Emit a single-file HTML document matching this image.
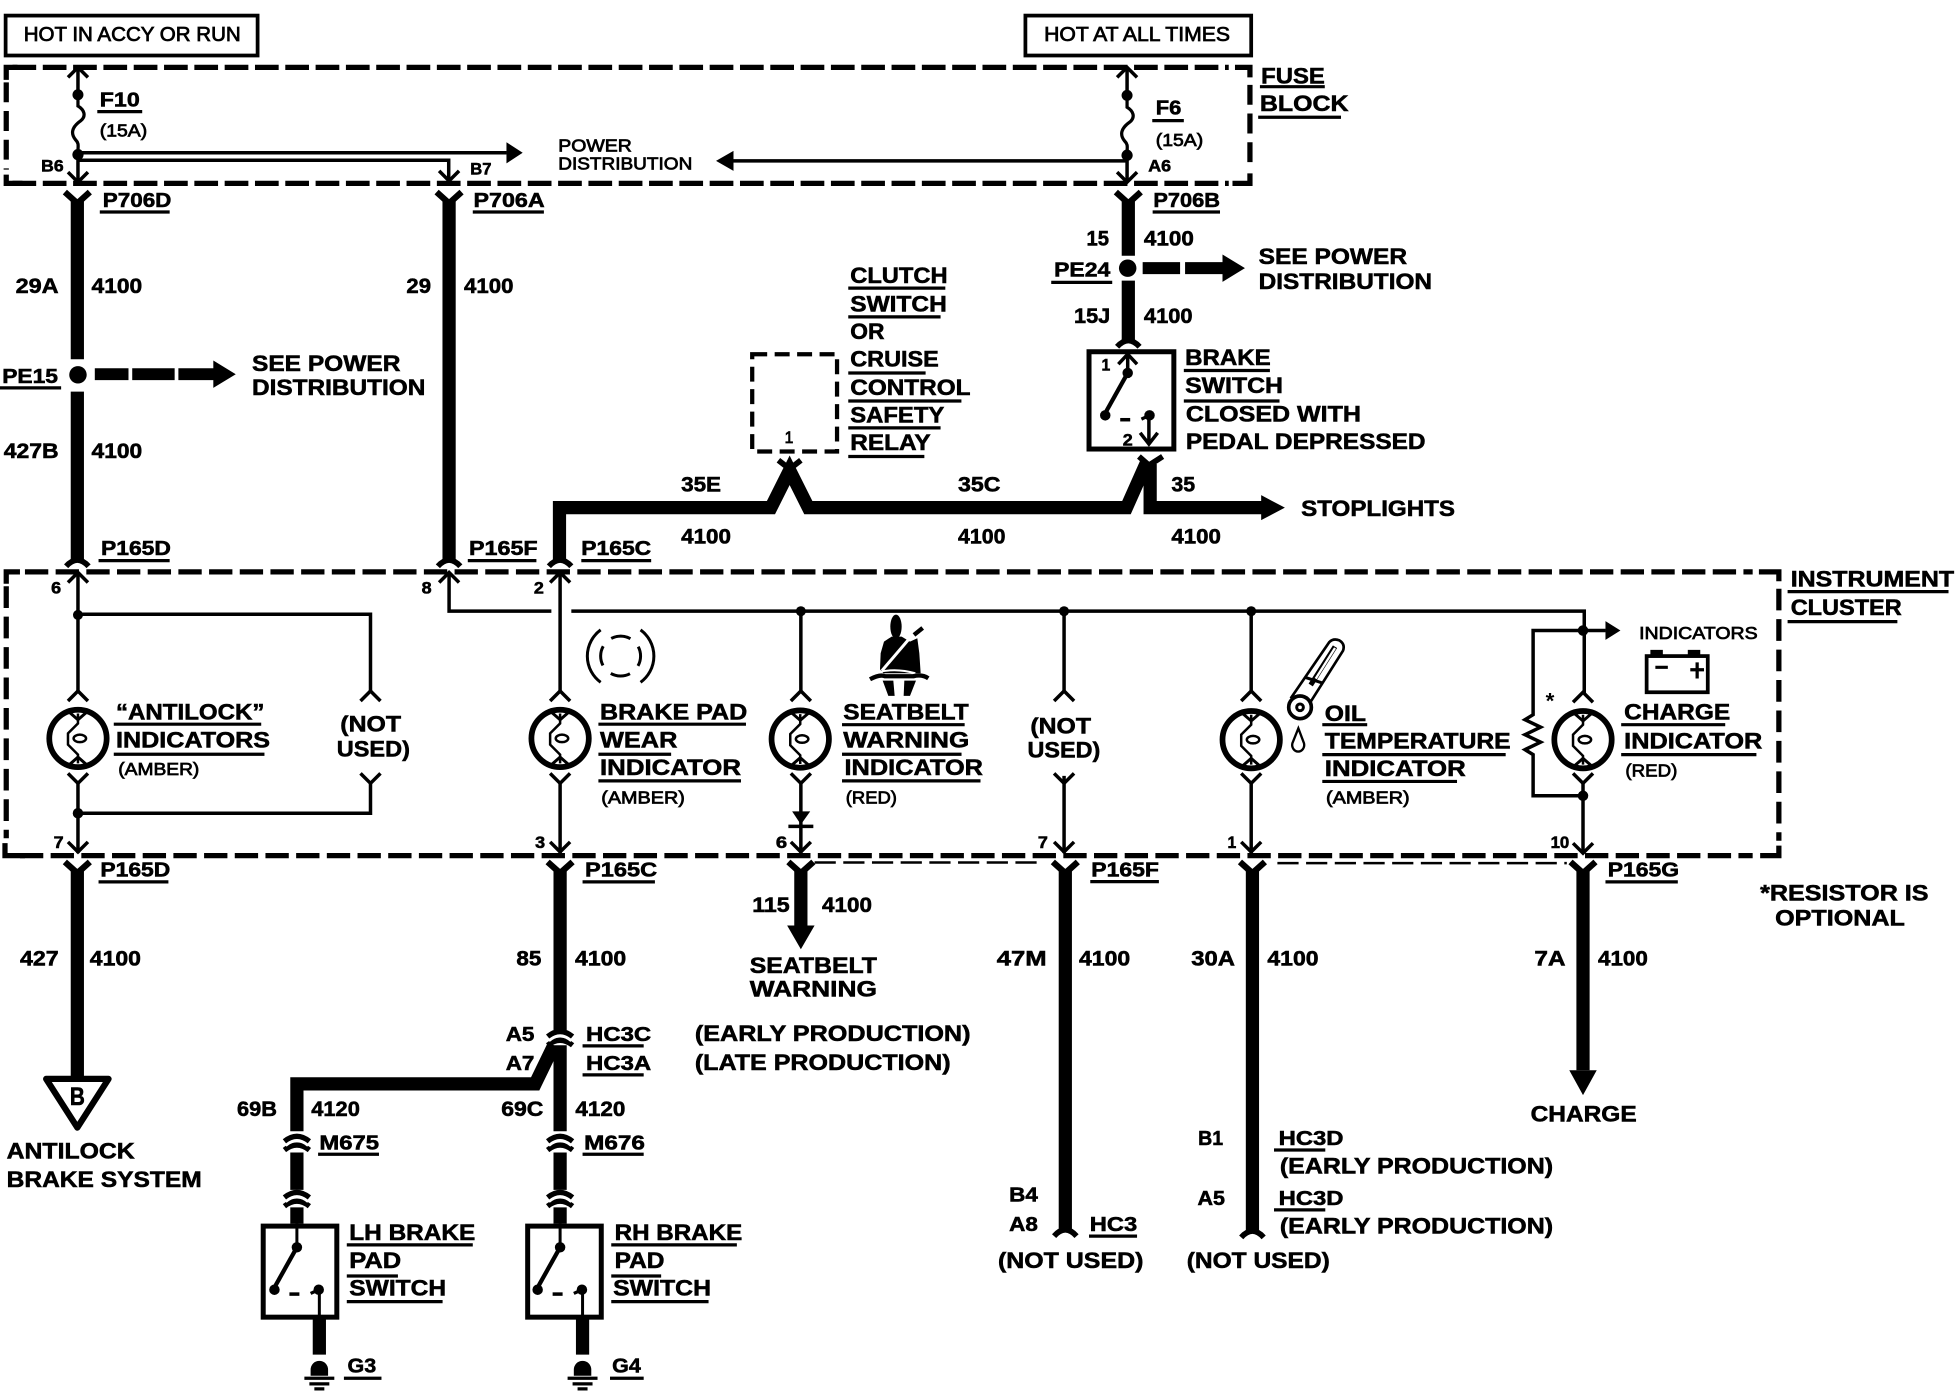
<!DOCTYPE html>
<html><head><meta charset="utf-8"><title>Brake switch wiring diagram</title>
<style>
html,body{margin:0;padding:0;background:#fff}
svg{display:block}
text{font-family:"Liberation Sans",sans-serif;fill:#000}
.b text{font-weight:bold;stroke:#000;stroke-width:.45}
.r text{font-weight:normal;stroke:#000;stroke-width:.6}
.l18 text{font-size:18px}.l17 text{font-size:17px}.l16 text{font-size:16px}.l14 text{font-size:14px}.l13 text{font-size:13px}
</style></head><body>
<svg xmlns="http://www.w3.org/2000/svg" width="1956" height="1392" viewBox="0 0 1568 1116" preserveAspectRatio="none">
<defs>
<path id="cu" d="M-8,8 L0,0 L8,8" fill="none" stroke="#000" stroke-width="2.8"/>
<path id="cd" d="M-8,-8 L0,0 L8,-8" fill="none" stroke="#000" stroke-width="2.8"/>
<path id="yt" d="M-10,0 L0,9 L10,0" fill="none" stroke="#000" stroke-width="5"/>
<path id="at" d="M-9,6 Q0,-4 9,6" fill="none" stroke="#000" stroke-width="4.5"/>
<g id="dbl"><path d="M-10,5 Q0,-3 10,5" fill="none" stroke="#000" stroke-width="4.2"/><path d="M-10,12 Q0,4 10,12" fill="none" stroke="#000" stroke-width="4.2"/><path d="M-9,8.5 Q0,.5 9,8.5" fill="none" stroke="#fff" stroke-width="2.2"/></g>
<g id="bulb" fill="none" stroke="#000">
<circle r="23" stroke-width="4.6"/>
<path d="M0,-20 V-12 L-8,-4 V5 L0,13 V20" stroke-width="2"/>
<ellipse cx="1.5" cy="0" rx="5" ry="3" stroke-width="2"/>
<path d="M-8,-22 L0,-15 L8,-22 M-8,22 L0,15 L8,22" stroke-width="2.4"/>
</g>
<path id="fuse" d="M0,0 v6 c5,3 7,8 2,12 c-7,5 -8,10 -4,15 c3,3 2,5 2,9" fill="none" stroke="#000" stroke-width="2.6"/>
<g id="gnd"><path d="M-7,12 V7 A7,7 0 0 1 7,7 V12 Z" fill="#000"/><path d="M-12,14 H12 M-8,18.5 H8 M-4,22.5 H4" stroke="#000" stroke-width="2.6" fill="none"/></g>
<g id="sw" fill="none" stroke="#000">
<circle cx="0" cy="19" r="4.2" fill="#000" stroke="none"/>
<path d="M0,19 L-19,53" stroke-width="3.4"/>
<circle cx="-18" cy="53" r="4.2" fill="#000" stroke="none"/>
<path d="M-6,56.5 H2" stroke-width="2.8"/>
<circle cx="17.5" cy="53" r="4.2" fill="#000" stroke="none"/>
<path d="M17.5,53 L11,56" stroke-width="2.6"/>
</g>
</defs>

<!-- top boxes -->
<rect x="4.5" y="12.5" width="202" height="32" fill="none" stroke="#000" stroke-width="3"/>
<rect x="822" y="12.5" width="181" height="32" fill="none" stroke="#000" stroke-width="3"/>

<!-- dashed blocks -->
<g fill="none" stroke="#000" stroke-width="4.2">
<path d="M10,54 H985" stroke-dasharray="19 5.3"/>
<path d="M10,147 H985" stroke-dasharray="19 5.3"/>
<path d="M5,66 V136" stroke-dasharray="16 7"/>
<path d="M1002,68 V134" stroke-dasharray="16 7"/>
<path d="M5,64 V54 H14 M18,147 H5 V140 M990,54 H1002 V62 M988,147 H1002 V139"/>
<path d="M20,458.5 H1405" stroke-dasharray="18.7 5.9"/>
<path d="M16,686 H1405" stroke-dasharray="18.7 5.9"/>
<path d="M5,470 V672" stroke-dasharray="17.4 7"/>
<path d="M1426,472 V674" stroke-dasharray="17.4 7"/>
<path d="M5,468 V458.5 H16 M20,686 H4 V676 M1410,458.5 H1426 V466 M1411,686 H1426 V678"/>
<path d="M603,284 H671 V362 H603 Z" stroke-dasharray="12 6" stroke-width="3.4"/>
<path d="M653,691.5 H834 M1024,692 H1256" stroke-dasharray="17 6" stroke-width="2"/>
</g>

<!-- thick wires -->
<g fill="none" stroke="#000" stroke-width="10.6">
<path d="M62,161 V288 M62,314 V449"/>
<path d="M360,161 V449"/>
<path d="M904.5,161 V205 M904.5,225 V273"/>
<path d="M448.5,449 V407 H618 L633,377 L648,407 H903 L919,371"/>
<path d="M922,372 V407 H1012"/>
<path d="M62,697 V864"/>
<path d="M449,697 V827 M449,838 V907 M449,924 V954 M449,968 V981"/>
<path d="M444,838 L429,869 H238 V907 M238,924 V954 M238,968 V981"/>
<path d="M642,697 V742"/>
<path d="M854,697 V986"/>
<path d="M1004,697 V987"/>
<path d="M1269,697 V858"/>
<path d="M256,1057 V1086 M467,1057 V1086"/>
<path d="M76,300 H103 M106,300 H140 M143,300 H172" stroke-width="9.6"/>
<path d="M916,215 H946 M950,215 H982" stroke-width="9.6"/>
</g>
<!-- thick arrowheads -->
<path d="M171,289 L189,300 L171,311 Z M980,204 L998,215 L980,226 Z M1011,397 L1030,407 L1011,417 Z M631,742 H653 L642,761 Z M1258,858 H1280 L1269,878 Z"/>
<circle cx="62.5" cy="300.5" r="7"/><circle cx="904" cy="215" r="7"/>

<!-- connectors on thick wires -->
<use href="#yt" x="62" y="154"/><use href="#yt" x="360" y="154"/><use href="#yt" x="904.5" y="154"/>
<use href="#yt" x="62" y="691"/><use href="#yt" x="449" y="691"/><use href="#yt" x="642" y="691"/><use href="#yt" x="854" y="691"/><use href="#yt" x="1004" y="691"/><use href="#yt" x="1269" y="691"/>
<use href="#at" x="62" y="448"/><use href="#at" x="360" y="448"/><use href="#at" x="449" y="448"/>
<use href="#at" x="904.5" y="272"/>
<path d="M624,369 L633,376 L642,369 M913,366 L921,373 L932,366" fill="none" stroke="#000" stroke-width="4.6"/>
<use href="#at" x="854" y="985"/><use href="#at" x="1004" y="986"/>
<use href="#dbl" x="449" y="826"/><use href="#dbl" x="449" y="910"/><use href="#dbl" x="449" y="955"/><use href="#dbl" x="238" y="910"/><use href="#dbl" x="238" y="955"/>

<!-- fuse block internals -->
<g fill="none" stroke="#000" stroke-width="2.8">
<path d="M62.5,54 V80 M62.5,120 V145"/>
<path d="M903.5,54 V80 M903.5,120 V145"/>
<path d="M62,122.5 H406"/>
<path d="M62,128.5 H359.7 V144"/>
<path d="M588,129 H904"/>
</g>
<use href="#fuse" x="62.5" y="79"/><use href="#fuse" x="903.5" y="80"/>
<use href="#cu" x="62.5" y="54"/><use href="#cu" x="903.5" y="54"/>
<use href="#cd" x="62.5" y="146"/><use href="#cd" x="360" y="145"/><use href="#cd" x="903.5" y="146"/>
<circle cx="62.5" cy="76" r="4.4"/><circle cx="62.5" cy="124" r="4.5"/><circle cx="903.5" cy="76.5" r="4.4"/><circle cx="903.5" cy="124.5" r="4.5"/>
<path d="M406,114 L419,122.5 L406,131 Z M588,121 L574,129 L588,137 Z"/>

<!-- cluster internals -->
<g fill="none" stroke="#000" stroke-width="2.8">
<path d="M62.5,459 V556 M62.5,627 V684"/>
<path d="M62.5,492.5 H297 V556"/>
<path d="M297,627 V652 H62.5"/>
<path d="M360,459 V490 H442 M458,490 H1270 V556"/>
<path d="M449,459 V556 M449,627 V684"/>
<path d="M642,490 V556 M642,627 V684"/>
<path d="M853,490 V556 M853,622 V684"/>
<path d="M1003,490 V556 M1003,627 V684"/>
<path d="M1269,627 V684"/>
<path d="M1287,505.5 H1229 V573 L1222.5,577 L1235,583 L1222.5,589 L1235,595 L1222.5,601 L1229,605 V638 H1269"/>
</g>
<g>
<use href="#cu" x="62.5" y="459"/><use href="#cu" x="360" y="459"/><use href="#cu" x="449" y="459"/>
<use href="#cu" x="62.5" y="554"/><use href="#cu" x="297" y="554"/><use href="#cu" x="449" y="554"/><use href="#cu" x="642" y="554"/><use href="#cu" x="853" y="554"/><use href="#cu" x="1003" y="554"/><use href="#cu" x="1269" y="555"/>
<use href="#cd" x="62.5" y="628"/><use href="#cd" x="297" y="628"/><use href="#cd" x="449" y="628"/><use href="#cd" x="642" y="628"/><use href="#cd" x="853" y="628"/><use href="#cd" x="1003" y="628"/><use href="#cd" x="1269" y="628"/>
<use href="#cd" x="62.5" y="683"/><use href="#cd" x="449" y="683"/><use href="#cd" x="642" y="683"/><use href="#cd" x="853" y="683"/><use href="#cd" x="1003" y="683"/><use href="#cd" x="1269" y="684"/>
</g>
<circle cx="62.5" cy="493" r="4"/><circle cx="62.5" cy="652" r="4.2"/><circle cx="642" cy="490" r="4"/><circle cx="853" cy="490" r="4"/><circle cx="1003" cy="490" r="4"/><circle cx="1269" cy="505.5" r="4.2"/><circle cx="1269" cy="638" r="4.2"/>
<path d="M1287,498 L1299,505.5 L1287,513 Z"/>
<path d="M635,650.5 H649.5 L642,661 Z"/><path d="M632,662.5 H652" stroke="#000" stroke-width="2.8"/>
<use href="#bulb" x="62.5" y="592"/><use href="#bulb" x="449" y="592"/><use href="#bulb" x="641.5" y="592.5"/><use href="#bulb" x="1003" y="593"/><use href="#bulb" x="1269" y="593"/>

<!-- brake pad icon -->
<g fill="none" stroke="#000" stroke-width="2.4">
<path d="M481.5,505 A26,26 0 0 0 481.5,547 M513.5,505 A26,26 0 0 1 513.5,547"/>
<circle cx="497.5" cy="526" r="16" stroke-dasharray="16 9.1" transform="rotate(-118 497.5 526)"/>
</g>
<!-- seatbelt icon -->
<g transform="translate(689.4,489) scale(.2672)">
<ellipse cx="108" cy="50" rx="17" ry="36"/>
<path d="M72,95 L95,80 H125 L150,95 L172,85 L178,130 L182,190 H70 L60,178 L62,130 Z"/>
<path d="M66,182 L160,72" stroke="#fff" stroke-width="9" fill="none"/>
<path d="M162,75 L188,54" stroke="#000" stroke-width="13" fill="none"/>
<path d="M58,186 Q110,174 166,190" stroke="#fff" stroke-width="6" fill="none"/>
<path d="M30,208 Q60,192 75,199 H160 Q185,192 205,205" stroke="#000" stroke-width="13" fill="none"/>
<path d="M68,212 L85,258 H104 L100,212 Z M168,212 L150,258 H131 L133,212 Z"/>
</g>
<!-- thermometer -->
<g transform="translate(1018.1,505.1) scale(.2672)" fill="none" stroke="#000">
<path d="M62,205 L178,36 Q190,24 208,31 Q226,42 219,62 L122,215" stroke-width="8" fill="#fff"/>
<circle cx="90" cy="232" r="34" stroke-width="11" fill="#fff"/>
<circle cx="90" cy="232" r="10" stroke-width="9"/>
<path d="M122,165 L195,50" stroke-width="15"/>
<path d="M137,146 L195,54" stroke="#fff" stroke-width="7"/>
<path d="M105,142 L160,160" stroke-width="9"/>
<path d="M85,295 L67,340 A18,20 0 1 0 102,340 Z" stroke-width="7"/>
</g>
<!-- battery -->
<g fill="none" stroke="#000">
<rect x="1320" y="526" width="49" height="29" stroke-width="3"/>
<path d="M1327,535 H1337 M1355,537 H1366 M1360.5,531 V544" stroke-width="2.6"/>
</g>
<path d="M1323,521 H1333 V526 H1323 Z M1353,521 H1363 V526 H1353 Z"/>

<!-- brake switch -->
<rect x="873" y="282" width="68" height="78" fill="none" stroke="#000" stroke-width="4"/>
<path d="M904,284 V300" stroke="#000" stroke-width="2.8"/>
<path d="M896.5,292 L904,284 L911.5,292" fill="none" stroke="#000" stroke-width="2.8"/>
<use href="#sw" x="904" y="280"/>
<path d="M921,333 V355 M914,347 L921,356 L928,347" fill="none" stroke="#000" stroke-width="2.8"/>
<!-- LH/RH switches -->
<rect x="211" y="983" width="59" height="73" fill="none" stroke="#000" stroke-width="4"/>
<rect x="423" y="983" width="59" height="73" fill="none" stroke="#000" stroke-width="4"/>
<path d="M238,981 V1000 M449,981 V1000 M256,1034 V1057 M467,1034 V1057" stroke="#000" stroke-width="2.4" fill="none"/>
<use href="#sw" x="238" y="981"/><use href="#sw" x="449" y="981"/>
<use href="#gnd" x="256" y="1091"/><use href="#gnd" x="467" y="1091"/>

<!-- triangle -->
<path d="M37,865 H87 L62,904 Z" fill="#fff" stroke="#000" stroke-width="5" stroke-linejoin="round"/>

<!-- underlines -->
<path fill="none" stroke="#000" stroke-width="2.6" d="
M1010,69.5H1062M1008.6,94H1075
M78,89.5H114M923.7,96.7H949
M80,170H136M379,170H436M924,170H978M842.7,226.4H891.6M0,311H49
M680,231H757.8M680,254H754M680,299H742M680,321.5H770.7M680,343H754M680,366H741
M949,297H1018M949,321.5H1025.7
M79,449.5H136M375,449.5H430M466,449.5H522
M1433,474.3H1562M1433,498.4H1521
M91.2,580.6H209.4M91.2,604.7H212
M479.7,580.6H598M479.7,604.7H538M479.7,626H594
M675,581H773.3M675,604.7H770.8M675,626H786
M1060,581H1096M1060,605H1207M1060,626.5H1168
M1299.6,581H1383M1299.6,605H1408
M79,707H135M467,707H525M874,706.8H929M1287,707H1345
M467,838.5H516M467,861.8H516
M255,925.4H303.8M467,925.4H516
M278,998H379M278,1023H319M278,1043.5H354.8
M490,998H590.7M490,1023H530M490,1043.5H568
M275.7,1105H305.8M489,1105H516
M1021.3,922H1062.4M1021.3,970H1062.4
M873,991H911.5"/>

<!-- regular weight labels -->
<g class="r l16">
<text x="19" y="33" textLength="174" lengthAdjust="spacingAndGlyphs">HOT IN ACCY OR RUN</text>
<text x="837" y="33" textLength="149" lengthAdjust="spacingAndGlyphs">HOT AT ALL TIMES</text>
</g>
<g class="r l14">
<text x="447.5" y="121.6" textLength="59" lengthAdjust="spacingAndGlyphs">POWER</text>
<text x="447.5" y="136" textLength="107.5" lengthAdjust="spacingAndGlyphs">DISTRIBUTION</text>
<text x="1314" y="512.4" textLength="95" lengthAdjust="spacingAndGlyphs">INDICATORS</text>
<text x="94.8" y="621.3" textLength="65" lengthAdjust="spacingAndGlyphs">(AMBER)</text>
<text x="482" y="644" textLength="67" lengthAdjust="spacingAndGlyphs">(AMBER)</text>
<text x="678" y="644" textLength="41" lengthAdjust="spacingAndGlyphs">(RED)</text>
<text x="1063" y="644" textLength="67" lengthAdjust="spacingAndGlyphs">(AMBER)</text>
<text x="1303" y="622.6" textLength="41.6" lengthAdjust="spacingAndGlyphs">(RED)</text>
<text x="80" y="109.6" textLength="38" lengthAdjust="spacingAndGlyphs">(15A)</text>
<text x="926.5" y="117" textLength="38" lengthAdjust="spacingAndGlyphs">(15A)</text>
</g>
<g class="r l13">
<text x="629" y="355" textLength="7" lengthAdjust="spacingAndGlyphs">1</text>
</g>

<!-- bold small -->
<g class="b l13">
<text x="883" y="297" textLength="7" lengthAdjust="spacingAndGlyphs">1</text>
<text x="33" y="137.6" textLength="18" lengthAdjust="spacingAndGlyphs">B6</text>
<text x="377" y="140" textLength="17" lengthAdjust="spacingAndGlyphs">B7</text>
<text x="920.5" y="137.6" textLength="18.3" lengthAdjust="spacingAndGlyphs">A6</text>
<text x="41" y="476" textLength="8" lengthAdjust="spacingAndGlyphs">6</text>
<text x="338" y="476" textLength="8" lengthAdjust="spacingAndGlyphs">8</text>
<text x="428" y="476" textLength="8" lengthAdjust="spacingAndGlyphs">2</text>
<text x="43" y="680" textLength="8" lengthAdjust="spacingAndGlyphs">7</text>
<text x="429" y="680" textLength="8" lengthAdjust="spacingAndGlyphs">3</text>
<text x="622" y="680" textLength="9" lengthAdjust="spacingAndGlyphs">6</text>
<text x="832" y="680" textLength="8" lengthAdjust="spacingAndGlyphs">7</text>
<text x="984" y="680" textLength="7" lengthAdjust="spacingAndGlyphs">1</text>
<text x="1243" y="680" textLength="15" lengthAdjust="spacingAndGlyphs">10</text>
<text x="900" y="357" textLength="8" lengthAdjust="spacingAndGlyphs">2</text>
</g>
<text x="1239" y="568" font-size="18" font-weight="bold">*</text>

<!-- connector labels -->
<g class="b l16">
<text x="80" y="85.5" textLength="32" lengthAdjust="spacingAndGlyphs">F10</text>
<text x="926.5" y="92" textLength="20.5" lengthAdjust="spacingAndGlyphs">F6</text>
<text x="82.4" y="166" textLength="55" lengthAdjust="spacingAndGlyphs">P706D</text>
<text x="379.6" y="166" textLength="57" lengthAdjust="spacingAndGlyphs">P706A</text>
<text x="924.6" y="166" textLength="53.4" lengthAdjust="spacingAndGlyphs">P706B</text>
<text x="1.8" y="307" textLength="44.7" lengthAdjust="spacingAndGlyphs">PE15</text>
<text x="845" y="221.8" textLength="45" lengthAdjust="spacingAndGlyphs">PE24</text>
<text x="81" y="445" textLength="56" lengthAdjust="spacingAndGlyphs">P165D</text>
<text x="376" y="445" textLength="55" lengthAdjust="spacingAndGlyphs">P165F</text>
<text x="466" y="445" textLength="56" lengthAdjust="spacingAndGlyphs">P165C</text>
<text x="80.5" y="702.8" textLength="56" lengthAdjust="spacingAndGlyphs">P165D</text>
<text x="469" y="702.8" textLength="57.8" lengthAdjust="spacingAndGlyphs">P165C</text>
<text x="874.8" y="702.8" textLength="54.2" lengthAdjust="spacingAndGlyphs">P165F</text>
<text x="1288.8" y="702.8" textLength="57.2" lengthAdjust="spacingAndGlyphs">P165G</text>
<text x="469.8" y="834.5" textLength="52.2" lengthAdjust="spacingAndGlyphs">HC3C</text>
<text x="469.8" y="857.8" textLength="52.2" lengthAdjust="spacingAndGlyphs">HC3A</text>
<text x="405.4" y="834.5" textLength="23" lengthAdjust="spacingAndGlyphs">A5</text>
<text x="405.4" y="857.8" textLength="23" lengthAdjust="spacingAndGlyphs">A7</text>
<text x="256" y="921.5" textLength="47.8" lengthAdjust="spacingAndGlyphs">M675</text>
<text x="468.3" y="921.5" textLength="48.7" lengthAdjust="spacingAndGlyphs">M676</text>
<text x="278.6" y="1100.4" textLength="23" lengthAdjust="spacingAndGlyphs">G3</text>
<text x="490.7" y="1100.4" textLength="23" lengthAdjust="spacingAndGlyphs">G4</text>
<text x="809" y="963.3" textLength="23" lengthAdjust="spacingAndGlyphs">B4</text>
<text x="809" y="987" textLength="23" lengthAdjust="spacingAndGlyphs">A8</text>
<text x="873.6" y="987" textLength="38" lengthAdjust="spacingAndGlyphs">HC3</text>
<text x="960.5" y="918" textLength="20" lengthAdjust="spacingAndGlyphs">B1</text>
<text x="960" y="966" textLength="22" lengthAdjust="spacingAndGlyphs">A5</text>
<text x="1025" y="918" textLength="52" lengthAdjust="spacingAndGlyphs">HC3D</text>
<text x="1025" y="966" textLength="52" lengthAdjust="spacingAndGlyphs">HC3D</text>
</g>

<!-- circuit numbers -->
<g class="b l17">
<text x="12.5" y="235" textLength="34.5" lengthAdjust="spacingAndGlyphs">29A</text>
<text x="73.4" y="235" textLength="40.6" lengthAdjust="spacingAndGlyphs">4100</text>
<text x="325.8" y="235" textLength="19.7" lengthAdjust="spacingAndGlyphs">29</text>
<text x="372" y="235" textLength="39.6" lengthAdjust="spacingAndGlyphs">4100</text>
<text x="3" y="367" textLength="44" lengthAdjust="spacingAndGlyphs">427B</text>
<text x="73.4" y="367" textLength="40.6" lengthAdjust="spacingAndGlyphs">4100</text>
<text x="871" y="197" textLength="18" lengthAdjust="spacingAndGlyphs">15</text>
<text x="917" y="197" textLength="40" lengthAdjust="spacingAndGlyphs">4100</text>
<text x="861" y="259" textLength="29" lengthAdjust="spacingAndGlyphs">15J</text>
<text x="917" y="259" textLength="39" lengthAdjust="spacingAndGlyphs">4100</text>
<text x="546" y="394" textLength="32" lengthAdjust="spacingAndGlyphs">35E</text>
<text x="546" y="435.6" textLength="40" lengthAdjust="spacingAndGlyphs">4100</text>
<text x="768" y="394" textLength="34" lengthAdjust="spacingAndGlyphs">35C</text>
<text x="768" y="435.6" textLength="38" lengthAdjust="spacingAndGlyphs">4100</text>
<text x="939" y="394" textLength="19" lengthAdjust="spacingAndGlyphs">35</text>
<text x="939" y="435.6" textLength="39.7" lengthAdjust="spacingAndGlyphs">4100</text>
<text x="603" y="731" textLength="30" lengthAdjust="spacingAndGlyphs">115</text>
<text x="659" y="731" textLength="40" lengthAdjust="spacingAndGlyphs">4100</text>
<text x="16" y="774" textLength="31" lengthAdjust="spacingAndGlyphs">427</text>
<text x="72" y="774" textLength="41" lengthAdjust="spacingAndGlyphs">4100</text>
<text x="414" y="774" textLength="20" lengthAdjust="spacingAndGlyphs">85</text>
<text x="461" y="774" textLength="41" lengthAdjust="spacingAndGlyphs">4100</text>
<text x="799" y="774" textLength="40" lengthAdjust="spacingAndGlyphs">47M</text>
<text x="865" y="774" textLength="41" lengthAdjust="spacingAndGlyphs">4100</text>
<text x="955" y="774" textLength="35" lengthAdjust="spacingAndGlyphs">30A</text>
<text x="1016" y="774" textLength="41" lengthAdjust="spacingAndGlyphs">4100</text>
<text x="1230" y="774" textLength="25" lengthAdjust="spacingAndGlyphs">7A</text>
<text x="1281" y="774" textLength="40" lengthAdjust="spacingAndGlyphs">4100</text>
<text x="190" y="894.7" textLength="32" lengthAdjust="spacingAndGlyphs">69B</text>
<text x="249.5" y="894.7" textLength="39" lengthAdjust="spacingAndGlyphs">4120</text>
<text x="401.8" y="894.7" textLength="33.8" lengthAdjust="spacingAndGlyphs">69C</text>
<text x="461.3" y="894.7" textLength="40" lengthAdjust="spacingAndGlyphs">4120</text>
</g>

<!-- large labels -->
<g class="b l18">
<text x="1011" y="66.8" textLength="51" lengthAdjust="spacingAndGlyphs">FUSE</text>
<text x="1010" y="89" textLength="71" lengthAdjust="spacingAndGlyphs">BLOCK</text>
<text x="202" y="297.4" textLength="119" lengthAdjust="spacingAndGlyphs">SEE POWER</text>
<text x="202" y="316.7" textLength="139" lengthAdjust="spacingAndGlyphs">DISTRIBUTION</text>
<text x="1009" y="211.6" textLength="119" lengthAdjust="spacingAndGlyphs">SEE POWER</text>
<text x="1009" y="231.7" textLength="139" lengthAdjust="spacingAndGlyphs">DISTRIBUTION</text>
<text x="681.6" y="227" textLength="78" lengthAdjust="spacingAndGlyphs">CLUTCH</text>
<text x="681.6" y="249.8" textLength="77.4" lengthAdjust="spacingAndGlyphs">SWITCH</text>
<text x="681.6" y="271.8" textLength="27.4" lengthAdjust="spacingAndGlyphs">OR</text>
<text x="681.6" y="294" textLength="71" lengthAdjust="spacingAndGlyphs">CRUISE</text>
<text x="681.6" y="316.7" textLength="96.4" lengthAdjust="spacingAndGlyphs">CONTROL</text>
<text x="681.6" y="338.8" textLength="75.4" lengthAdjust="spacingAndGlyphs">SAFETY</text>
<text x="681.6" y="360.8" textLength="64.4" lengthAdjust="spacingAndGlyphs">RELAY</text>
<text x="950" y="292.6" textLength="68.6" lengthAdjust="spacingAndGlyphs">BRAKE</text>
<text x="950" y="315" textLength="78.5" lengthAdjust="spacingAndGlyphs">SWITCH</text>
<text x="950.6" y="338" textLength="140.4" lengthAdjust="spacingAndGlyphs">CLOSED WITH</text>
<text x="950.6" y="360" textLength="192.2" lengthAdjust="spacingAndGlyphs">PEDAL DEPRESSED</text>
<text x="1043" y="413.7" textLength="123.4" lengthAdjust="spacingAndGlyphs">STOPLIGHTS</text>
<text x="1435.5" y="470.3" textLength="131" lengthAdjust="spacingAndGlyphs">INSTRUMENT</text>
<text x="1435.5" y="493" textLength="89" lengthAdjust="spacingAndGlyphs">CLUSTER</text>
<text x="93" y="577" textLength="119" lengthAdjust="spacingAndGlyphs">“ANTILOCK”</text>
<text x="93" y="599.4" textLength="123.5" lengthAdjust="spacingAndGlyphs">INDICATORS</text>
<text x="272.8" y="586.5" textLength="48.7" lengthAdjust="spacingAndGlyphs">(NOT</text>
<text x="270" y="606.6" textLength="58.6" lengthAdjust="spacingAndGlyphs">USED)</text>
<text x="481" y="577" textLength="118" lengthAdjust="spacingAndGlyphs">BRAKE PAD</text>
<text x="481" y="599.4" textLength="62" lengthAdjust="spacingAndGlyphs">WEAR</text>
<text x="481" y="621.5" textLength="113" lengthAdjust="spacingAndGlyphs">INDICATOR</text>
<text x="676" y="576.7" textLength="100.5" lengthAdjust="spacingAndGlyphs">SEATBELT</text>
<text x="676" y="599.4" textLength="101" lengthAdjust="spacingAndGlyphs">WARNING</text>
<text x="677" y="621.3" textLength="111" lengthAdjust="spacingAndGlyphs">INDICATOR</text>
<text x="826" y="587.9" textLength="48.6" lengthAdjust="spacingAndGlyphs">(NOT</text>
<text x="823.7" y="607.4" textLength="58.3" lengthAdjust="spacingAndGlyphs">USED)</text>
<text x="1062" y="578" textLength="33" lengthAdjust="spacingAndGlyphs">OIL</text>
<text x="1062" y="600" textLength="149" lengthAdjust="spacingAndGlyphs">TEMPERATURE</text>
<text x="1062" y="622" textLength="113" lengthAdjust="spacingAndGlyphs">INDICATOR</text>
<text x="1302" y="577" textLength="85" lengthAdjust="spacingAndGlyphs">CHARGE</text>
<text x="1302" y="600" textLength="110.7" lengthAdjust="spacingAndGlyphs">INDICATOR</text>
<text x="1411" y="722" textLength="135" lengthAdjust="spacingAndGlyphs">*RESISTOR IS</text>
<text x="1423" y="742" textLength="104" lengthAdjust="spacingAndGlyphs">OPTIONAL</text>
<text x="601" y="780" textLength="102" lengthAdjust="spacingAndGlyphs">SEATBELT</text>
<text x="601" y="799" textLength="102" lengthAdjust="spacingAndGlyphs">WARNING</text>
<text x="557" y="834.5" textLength="221" lengthAdjust="spacingAndGlyphs">(EARLY PRODUCTION)</text>
<text x="557" y="858" textLength="205" lengthAdjust="spacingAndGlyphs">(LATE PRODUCTION)</text>
<text x="1227" y="899" textLength="85" lengthAdjust="spacingAndGlyphs">CHARGE</text>
<text x="5.3" y="929" textLength="102.7" lengthAdjust="spacingAndGlyphs">ANTILOCK</text>
<text x="5.3" y="951.8" textLength="156.4" lengthAdjust="spacingAndGlyphs">BRAKE SYSTEM</text>
<text x="280" y="994" textLength="101" lengthAdjust="spacingAndGlyphs">LH BRAKE</text>
<text x="280" y="1016.7" textLength="41.6" lengthAdjust="spacingAndGlyphs">PAD</text>
<text x="280" y="1038.7" textLength="77.6" lengthAdjust="spacingAndGlyphs">SWITCH</text>
<text x="492.7" y="994" textLength="102.3" lengthAdjust="spacingAndGlyphs">RH BRAKE</text>
<text x="492.7" y="1016.7" textLength="40" lengthAdjust="spacingAndGlyphs">PAD</text>
<text x="491.5" y="1038.7" textLength="78.5" lengthAdjust="spacingAndGlyphs">SWITCH</text>
<text x="1026" y="941" textLength="219" lengthAdjust="spacingAndGlyphs">(EARLY PRODUCTION)</text>
<text x="1026" y="988.8" textLength="219" lengthAdjust="spacingAndGlyphs">(EARLY PRODUCTION)</text>
<text x="800" y="1016.7" textLength="116.6" lengthAdjust="spacingAndGlyphs">(NOT USED)</text>
<text x="951.3" y="1016.7" textLength="114.7" lengthAdjust="spacingAndGlyphs">(NOT USED)</text>
</g>
<text x="56" y="886" font-size="20" font-weight="bold" stroke="#000" stroke-width=".5" textLength="12" lengthAdjust="spacingAndGlyphs">B</text>
</svg>
</body></html>
